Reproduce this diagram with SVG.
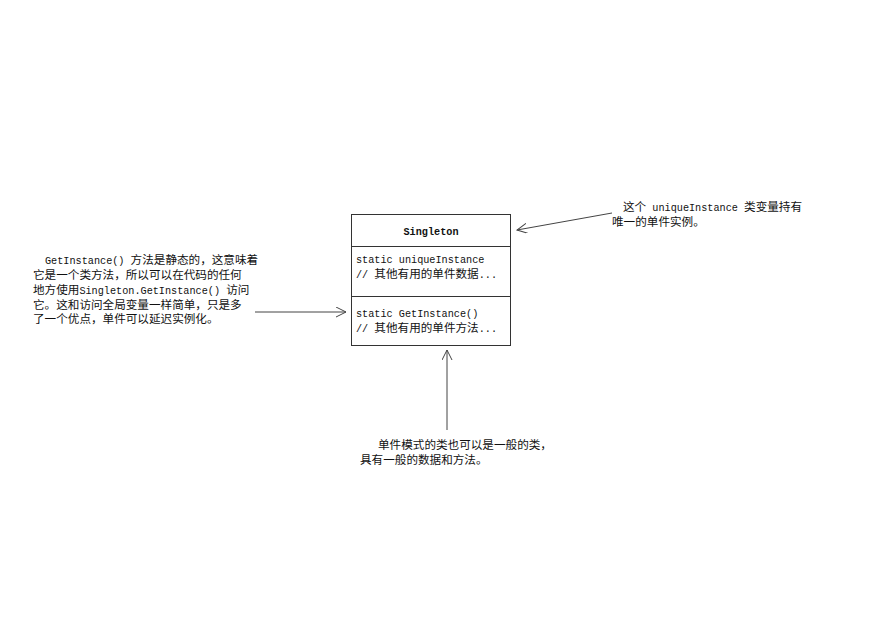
<svg xmlns="http://www.w3.org/2000/svg" width="883" height="624" viewBox="0 0 883 624">
<style>
text{font-family:"Noto Sans CJK SC","Liberation Mono",monospace;font-size:11.6px;fill:#111}
.l{font-family:"Liberation Mono","Noto Sans CJK SC",monospace;font-size:10.2px}
.b{font-family:"Liberation Mono",monospace;font-size:10.2px;font-weight:bold}
.box{fill:#fff;stroke:#333;stroke-width:1}
.con{stroke:#444;stroke-width:1;fill:none}
</style>
<defs>
<marker id="ah" markerUnits="userSpaceOnUse" markerWidth="12" markerHeight="12" refX="10" refY="5" orient="auto">
<path d="M0,0 L10,5 L0,10" fill="none" stroke="#444" stroke-width="1"/>
</marker>
</defs>
<rect width="883" height="624" fill="#fff"/>
<g id="singleton">
<rect class="box" x="351.5" y="214.5" width="159" height="131"/>
<line class="box" x1="351" y1="246.5" x2="510" y2="246.5"/>
<line class="box" x1="351" y1="296.5" x2="510" y2="296.5"/>
<text class="b" x="431" y="235" text-anchor="middle">Singleton</text>
<text x="356" y="263"><tspan class="l">static uniqueInstance</tspan></text>
<text x="356" y="277.5"><tspan class="l">// </tspan>其他有用的单件数据<tspan class="l">...</tspan></text>
<text x="356" y="317"><tspan class="l">static GetInstance()</tspan></text>
<text x="356" y="331.5"><tspan class="l">// </tspan>其他有用的单件方法<tspan class="l">...</tspan></text>
</g>
<g id="note-left">
<text x="45" y="264"><tspan class="l">GetInstance() </tspan>方法是静态的，这意味着</text>
<text x="33" y="279">它是一个类方法，所以可以在代码的任何</text>
<text x="33" y="294">地方使用<tspan class="l">Singleton.GetInstance() </tspan>访问</text>
<text x="33" y="308.5">它。这和访问全局变量一样简单，只是多</text>
<text x="33" y="323">了一个优点，单件可以延迟实例化。</text>
</g>
<g id="note-right">
<text x="623" y="211">这个<tspan class="l"> uniqueInstance </tspan>类变量持有</text>
<text x="612" y="225.5">唯一的单件实例。</text>
</g>
<g id="note-bottom">
<text x="378" y="449">单件模式的类也可以是一般的类，</text>
<text x="360" y="463.5">具有一般的数据和方法。</text>
</g>
<g id="connectors">
<line class="con" x1="255" y1="312" x2="346" y2="312" marker-end="url(#ah)"/>
<line class="con" x1="612" y1="213" x2="517" y2="230" marker-end="url(#ah)"/>
<line class="con" x1="447" y1="430" x2="447" y2="350" marker-end="url(#ah)"/>
</g>
</svg>
